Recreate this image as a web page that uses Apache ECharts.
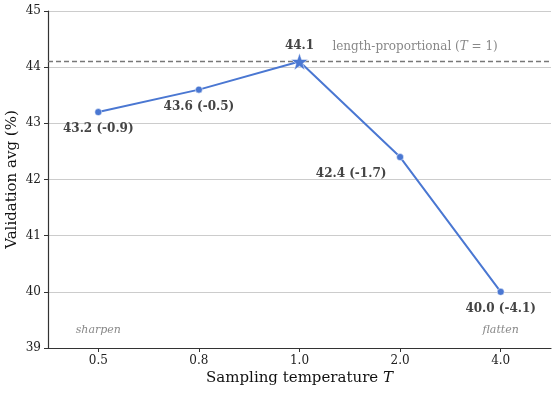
<!DOCTYPE html>
<html><head><meta charset="utf-8">
<script src="https://cdn.jsdelivr.net/npm/echarts@6/dist/echarts.min.js"></script>
<style>html,body{margin:0;padding:0;background:#fff}#c{width:559px;height:393px}</style>
</head><body><div id="c"></div>
<script>
const categories = ['0.5', '0.8', '1.0', '2.0', '4.0'];
const values = [43.2, 43.6, 44.1, 42.4, 40.0];
const labels = ['43.2 (-0.9)', '43.6 (-0.5)', '44.1', '42.4 (-1.7)', '40.0 (-4.1)'];
const baseline = 44.1;
const yTicks = [39, 40, 41, 42, 43, 44, 45];

const F = 'DejaVu Serif';
const blue = '#4a77d2';
const labelOffsets = [[0, 17], [0, 17], [0, -16], [-49, 17], [0, 17]];

const chart = echarts.init(document.getElementById('c'));
const data = values.map((v, i) => ({
  value: v,
  symbol: i === 2 ? 'path://M0,-10 L2.35,-3.24 L9.51,-3.09 L3.8,1.24 L5.88,8.09 L0,4 L-5.88,8.09 L-3.8,1.24 L-9.51,-3.09 L-2.35,-3.24 Z' : 'circle',
  symbolSize: i === 2 ? 17 : 7,
  label: {
    show: true, formatter: labels[i], position: 'inside',
    offset: labelOffsets[i], fontFamily: F, fontWeight: 'bold', fontSize: 12, color: '#444'
  }
}));

chart.setOption({
  animation: false,
  grid: { left: 48, right: 8, top: 11, bottom: 45, containLabel: false, outerBoundsMode: 'none' },
  xAxis: {
    type: 'category', data: categories, boundaryGap: true,
    name: 'Sampling temperature {i|T}', nameLocation: 'middle', nameGap: 23, nameMoveOverlap: false,
    nameTextStyle: { fontFamily: F, fontSize: 15, color: '#111', rich: { i: { fontFamily: F, fontStyle: 'italic', fontSize: 15, color: '#111' } } },
    axisLine: { lineStyle: { color: '#333', width: 1.2 } },
    axisTick: { show: true, alignWithLabel: true, length: 4, lineStyle: { color: '#333' } },
    axisLabel: { fontFamily: F, fontSize: 12, color: '#222', margin: 7 },
    splitLine: { show: false }
  },
  yAxis: {
    type: 'value', min: yTicks[0], max: yTicks[yTicks.length - 1], interval: 1,
    name: 'Validation avg (%)', nameLocation: 'middle', nameGap: 28, nameMoveOverlap: false,
    nameTextStyle: { fontFamily: F, fontSize: 15, color: '#111' },
    axisLine: { show: true, lineStyle: { color: '#333', width: 1.2 } },
    axisTick: { show: true, length: 4, lineStyle: { color: '#333' } },
    axisLabel: { fontFamily: F, fontSize: 12, color: '#222', margin: 7 },
    splitLine: { show: true, lineStyle: { color: '#cccccc', width: 1 } }
  },
  series: [{
    type: 'line', data: data,
    lineStyle: { color: blue, width: 2 },
    itemStyle: { color: blue, borderColor: '#fff', borderWidth: 0.5 },
    z: 5,
    markLine: {
      silent: true, symbol: 'none',
      lineStyle: { type: [5, 3], color: '#777', width: 1.3 },
      label: { show: false },
      data: [{ yAxis: baseline }]
    },
    markPoint: {
      symbol: 'circle', symbolSize: 0,
      data: [
        { coord: [0, 39.32], label: { show: true, formatter: 'sharpen', position: 'inside', fontFamily: F, fontStyle: 'italic', fontSize: 11, color: '#888' } },
        { coord: [4, 39.32], label: { show: true, formatter: 'flatten', position: 'inside', fontFamily: F, fontStyle: 'italic', fontSize: 11, color: '#888' } },
        { coord: [3, 44.1], label: { show: true, formatter: 'length-proportional ({i|T} = 1)', position: 'inside', offset: [15, -15], fontFamily: F, fontSize: 12, color: '#888', rich: { i: { fontFamily: F, fontStyle: 'italic', fontSize: 12, color: '#888' } } } }
      ]
    }
  }]
});
</script></body></html>
